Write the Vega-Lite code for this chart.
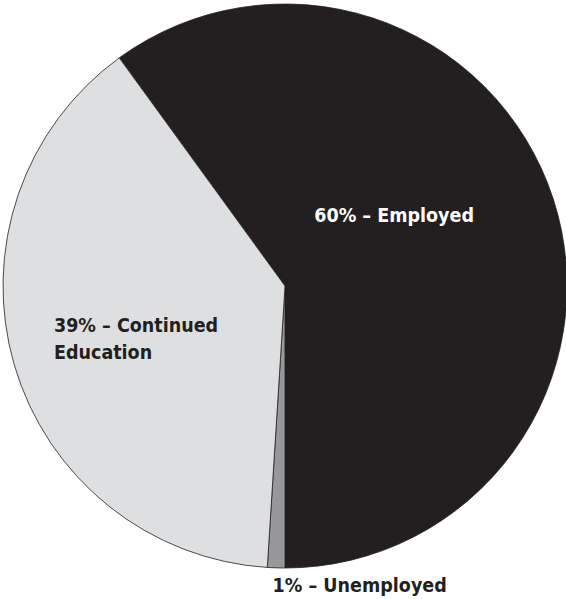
{
  "$schema": "https://vega.github.io/schema/vega-lite/v6.json",
  "width": 570,
  "height": 572,
  "padding": {"left": 0, "top": 0, "right": 0, "bottom": 27},
  "autosize": "none",
  "background": "white",
  "view": {"stroke": null},
  "data": {
    "values": [
      {"category": "Employed", "percent": 60, "rank": 1, "label": "60% – Employed"},
      {"category": "Unemployed", "percent": 1, "rank": 2, "label": "1% – Unemployed"},
      {"category": "Continued Education", "percent": 39, "rank": 3, "label": "39% – Continued\nEducation"}
    ]
  },
  "encoding": {
    "theta": {"field": "percent", "type": "quantitative", "stack": true, "scale": {"range": [-0.6283185, 5.6548668]}},
    "order": {"field": "rank", "type": "quantitative"}
  },
  "layer": [
    {
      "mark": {"type": "arc", "outerRadius": 282, "stroke": "#231f20", "strokeWidth": 0.8},
      "encoding": {
        "color": {
          "field": "category",
          "type": "nominal",
          "scale": {"domain": ["Employed", "Unemployed", "Continued Education"], "range": ["#231f20", "#97989b", "#dedfe1"]},
          "legend": null
        }
      }
    },
    {
      "mark": {"type": "text", "radius": 120, "dx": -5, "dy": -27, "align": "center", "baseline": "alphabetic", "font": "DejaVu Sans Condensed", "fontWeight": "bold", "fontSize": 19.5, "color": "white"},
      "encoding": {"text": {"condition": {"test": "datum.category === 'Employed'", "field": "label"}, "value": ""}}
    },
    {
      "mark": {"type": "text", "radius": 200, "dx": -39, "dy": -10, "align": "left", "baseline": "alphabetic", "lineBreak": "\n", "lineHeight": 27, "font": "DejaVu Sans Condensed", "fontWeight": "bold", "fontSize": 19.5, "color": "#231f20"},
      "encoding": {"text": {"condition": {"test": "datum.category === 'Continued Education'", "field": "label"}, "value": ""}}
    },
    {
      "mark": {"type": "text", "radius": 300, "dx": -3, "dy": 6, "align": "left", "baseline": "alphabetic", "font": "DejaVu Sans Condensed", "fontWeight": "bold", "fontSize": 19.5, "color": "#231f20"},
      "encoding": {"text": {"condition": {"test": "datum.category === 'Unemployed'", "field": "label"}, "value": ""}}
    }
  ]
}
